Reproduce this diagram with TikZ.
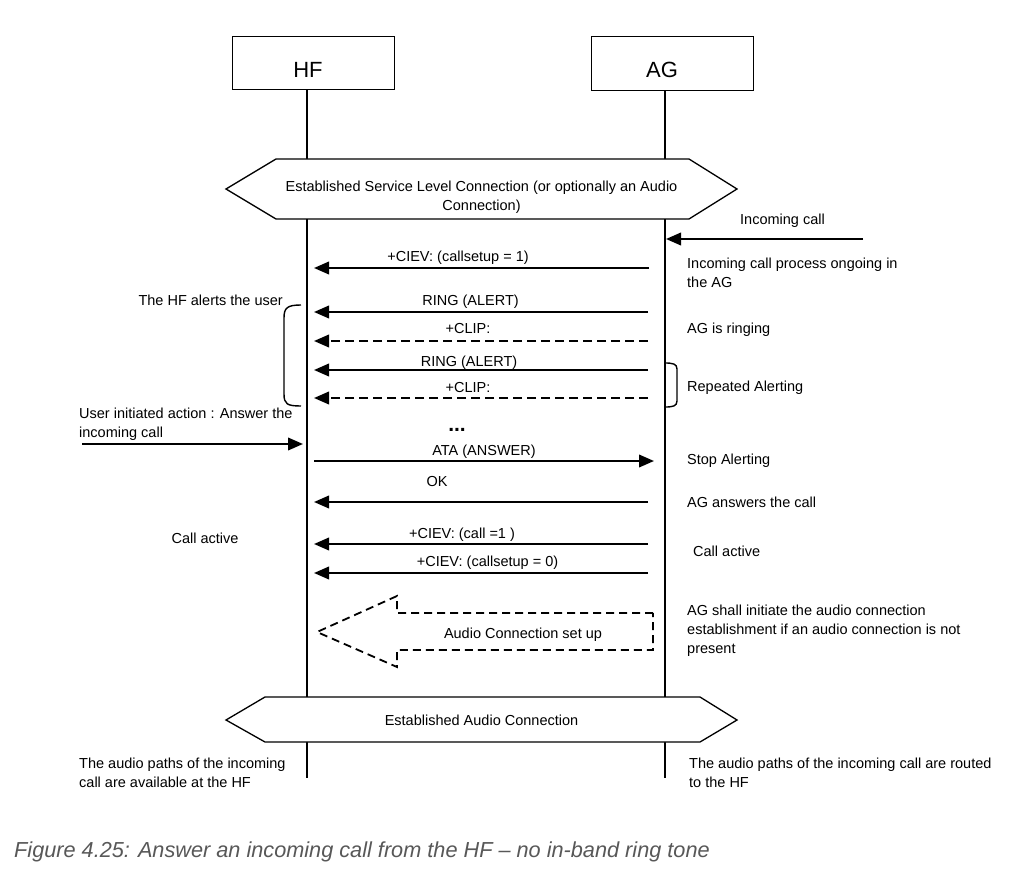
\documentclass[tikz,border=0pt]{standalone}
\usepackage{fontspec}
\setmainfont{Liberation Sans}
\usetikzlibrary{arrows.meta}
\definecolor{capgray}{HTML}{585858}
\begin{document}
\begin{tikzpicture}[x=1pt,y=-1pt,
  txt/.style={font=\fontsize{14.5}{19}\selectfont, inner sep=0pt, align=left},
  lbl/.style={font=\fontsize{14.5}{19}\selectfont, inner sep=0pt, anchor=base},
  hdr/.style={font=\fontsize{22}{26}\selectfont, inner sep=0pt},
  box/.style={draw, line width=0.9pt, minimum width=162pt, minimum height=53pt, inner sep=0pt},
  life/.style={line width=2pt},
  msg/.style={line width=2.2pt, -{Triangle[length=15pt,width=12.5pt]}},
  dmsg/.style={msg, dash pattern=on 9pt off 5pt},
  hexa/.style={draw, line width=1.3pt, fill=white},
  brk/.style={line width=1.4pt}]
\useasboundingbox (0,0) rectangle (1032,877);
\fill[white] (0,0) rectangle (1032,877);

% lifeline boxes
\node[box] (hfbox) at (313,62.5) {};
\node[box, minimum height=54pt] (agbox) at (672,63) {};
\node[hdr] (hft) at (308,70) {HF};
\node[hdr] (agt) at (662,70) {AG};
\coordinate (hfend) at (307,778);
\coordinate (agend) at (665,778);
\draw[life] (hfbox.south -| hfend) -- (hfend);
\draw[life] (agbox.south -| agend) -- (agend);

% hexagon 1
\draw[hexa] (226,189) -- (276,159) -- (689,159) -- (737,189) -- (689,219) -- (276,219) -- cycle;
\node[txt, align=center] (slc) at (481.5,197.5) {Established Service Level Connection (or optionally an Audio\\Connection)};

% hexagon 2
\draw[hexa] (226,720) -- (265,697) -- (700,697) -- (737,720) -- (700,742) -- (265,742) -- cycle;
\node[lbl] (eac) at (481.5,725) {Established Audio Connection};

% coordinates for messages
\coordinate (inA) at (863,239);
\coordinate (inB) at (666,239);
\coordinate (m1a) at (649,268);  \coordinate (m1b) at (314,268);
\coordinate (m2a) at (648,312);  \coordinate (m2b) at (314,312);
\coordinate (m3a) at (648,341);  \coordinate (m3b) at (314,341);
\coordinate (m4a) at (648,370);  \coordinate (m4b) at (314,370);
\coordinate (m5a) at (648,398);  \coordinate (m5b) at (314,398);
\coordinate (usA) at (82,444);   \coordinate (usB) at (303,444);
\coordinate (m6a) at (314,461);  \coordinate (m6b) at (654,461);
\coordinate (m7a) at (648,502);  \coordinate (m7b) at (314,502);
\coordinate (m8a) at (648,544);  \coordinate (m8b) at (314,544);
\coordinate (m9a) at (648,573);  \coordinate (m9b) at (314,573);

\draw[msg] (inA) -- (inB);
\draw[msg] (m1a) -- (m1b);
\draw[msg] (m2a) -- (m2b);
\draw[dmsg] (m3a) -- (m3b);
\draw[msg] (m4a) -- (m4b);
\draw[dmsg] (m5a) -- (m5b);
\draw[msg] (usA) -- (usB);
\draw[msg] (m6a) -- (m6b);
\draw[msg] (m7a) -- (m7b);
\draw[msg] (m8a) -- (m8b);
\draw[msg] (m9a) -- (m9b);

% message labels
\node[lbl] (l1) at (458,261) {+CIEV: (callsetup = 1)};
\node[lbl] (l2) at (470.5,305) {RING (ALERT)};
\node[lbl] (l3) at (468,333) {+CLIP:};
\node[lbl] (l4) at (469,366) {RING (ALERT)};
\node[lbl] (l5) at (468,392) {+CLIP:};
\node[lbl, font=\fontsize{21}{21}\selectfont\bfseries] (dots) at (457,431) {...};
\node[lbl] (l6) at (484,455) {ATA (ANSWER)};
\node[lbl] (l7) at (437,486) {OK};
\node[lbl] (l8) at (462,538) {+CIEV: (call =1 )};
\node[lbl] (l9) at (487.5,566) {+CIEV: (callsetup = 0)};

% brackets
\draw[brk] (301,305) .. controls (287,305) and (284,308) .. (284,318) -- (284,394) .. controls (284,404) and (287,406) .. (301,406);
\draw[brk] (665,363) .. controls (673,363) and (677,364) .. (677,369) -- (677,401) .. controls (677,406) and (673,407) .. (665,407);

% audio connection set up (dashed block arrow)
\draw[line width=1.8pt, dash pattern=on 8pt off 5pt] (653,613) -- (397,613) -- (397,596) -- (317,632) -- (397,667) -- (397,650) -- (653,650) -- cycle;
\node[lbl] (acs) at (523,638) {Audio Connection set up};

% side texts right
\node[lbl, anchor=base west] (inc) at (740,225) {Incoming call};
\node[txt, anchor=west] (r1) at (687,272.5) {Incoming call process ongoing in\\the AG};
\node[lbl, anchor=base west] (r2) at (687,333) {AG is ringing};
\node[lbl, anchor=base west] (r3) at (687,391) {Repeated Alerting};
\node[lbl, anchor=base west] (r4) at (687,464) {Stop Alerting};
\node[lbl, anchor=base west] (r5) at (687,507) {AG answers the call};
\node[lbl, anchor=base west] (r6) at (693,556) {Call active};
\node[txt, anchor=west] (r7) at (687,630.5) {AG shall initiate the audio connection\\establishment if an audio connection is not\\present};
\node[txt, anchor=west] (r8) at (689,772.5) {The audio paths of the incoming call are routed\\to the HF};

% side texts left
\node[lbl, anchor=base east] (hfa) at (283,305) {The HF alerts the user};
\node[txt, anchor=west] (ua) at (79,424.5) {User initiated action : Answer the\\incoming call};
\node[lbl] (ca) at (205,543) {Call active};
\node[txt, anchor=west] (l_end) at (79,772.5) {The audio paths of the incoming\\call are available at the HF};

% caption
\node[anchor=base west, inner sep=0pt, font=\fontsize{21.7}{26}\selectfont\itshape, text=capgray] (cap) at (14,857) {Figure 4.25: Answer an incoming call from the HF – no in-band ring tone};
\end{tikzpicture}
\end{document}
